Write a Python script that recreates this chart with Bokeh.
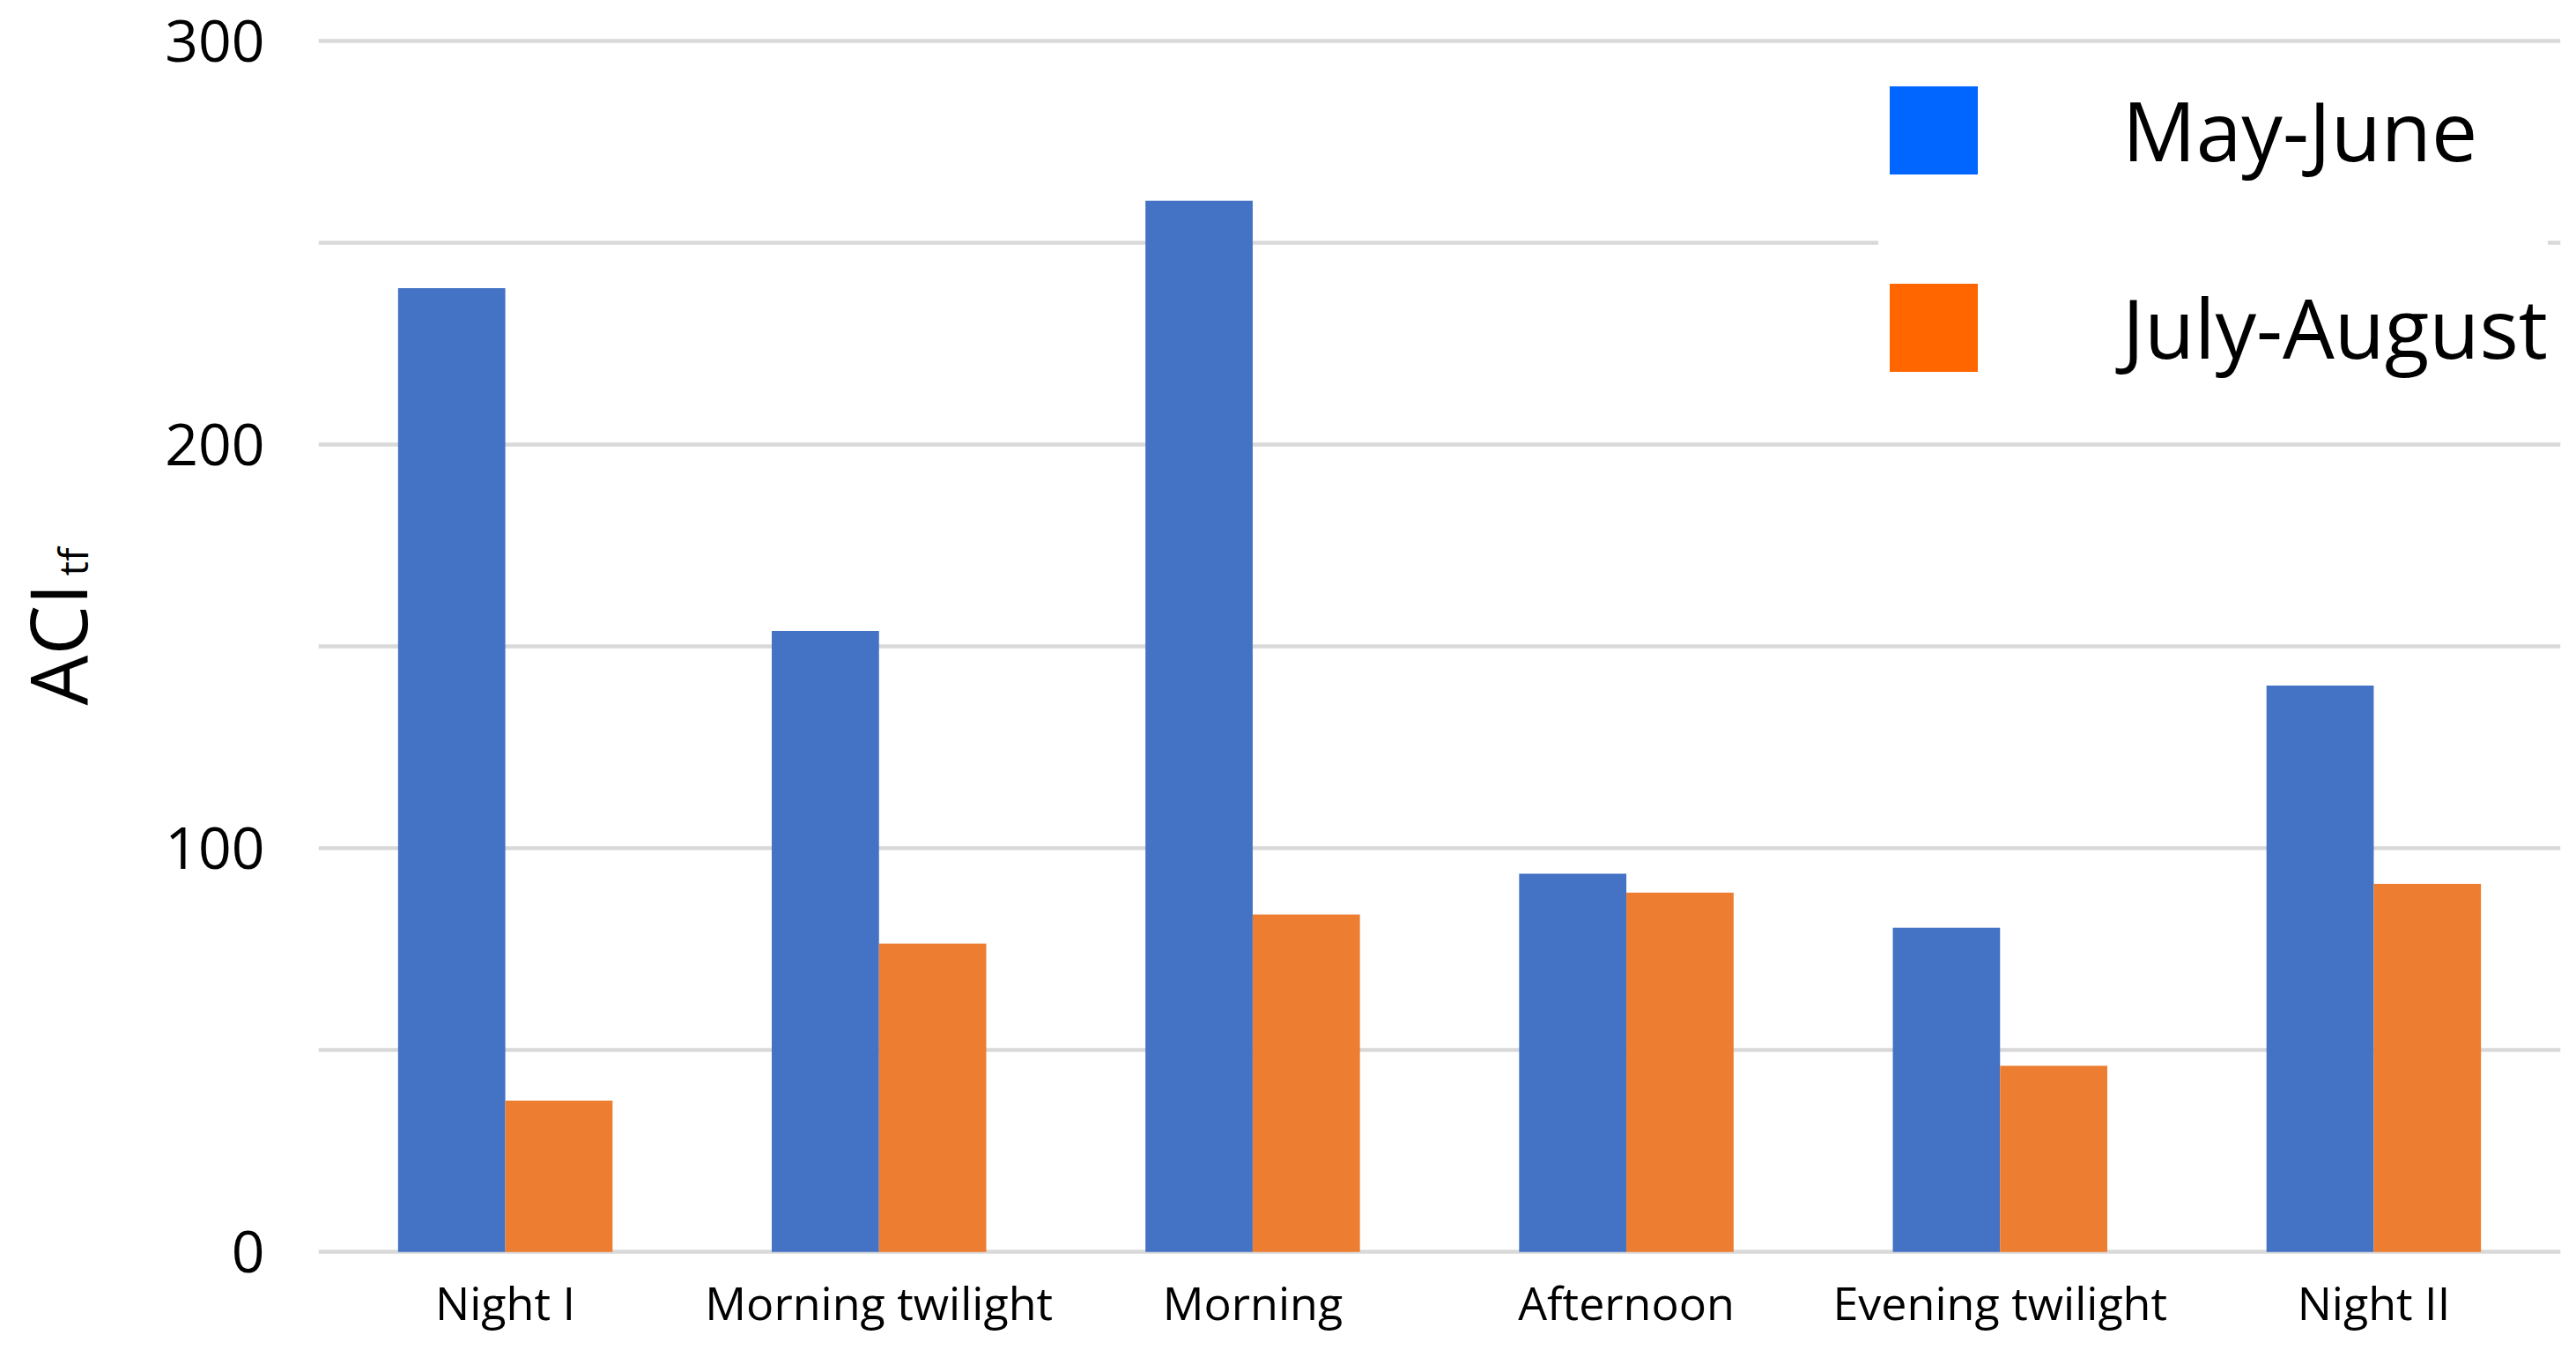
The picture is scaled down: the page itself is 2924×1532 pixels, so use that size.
import math
from bokeh.plotting import figure
from bokeh.models import (ColumnDataSource, FactorRange, Range1d, FixedTicker,
                          Legend, LegendItem, Label)
from bokeh.transform import dodge
from bokeh.embed import file_html
from bokeh.resources import INLINE

# ---- data ----
periods = ["Night I", "Morning twilight", "Morning", "Afternoon", "Evening twilight", "Night II"]
may_june = [238.7, 153.8, 260.4, 93.7, 80.3, 140.3]
july_august = [37.5, 76.4, 83.6, 89.0, 46.1, 91.2]
series_names = ["May-June", "July-August"]
y_tick_labels = [0, 100, 200, 300]
y_grid_values = [0, 50, 100, 150, 200, 250, 300]
y_title_main = "ACI"
y_title_sub = "tf"

FONT = "Open Sans"
BAR_BLUE = "#4472C4"
BAR_ORANGE = "#ED7D31"
LEG_BLUE = "#0066FF"
LEG_ORANGE = "#FF6600"

source = ColumnDataSource(data=dict(period=periods, may_june=may_june, july_august=july_august))

p = figure(width=2908, height=1516, output_backend="svg", toolbar_location=None, title=None,
           x_range=FactorRange(*periods, range_padding=0), y_range=Range1d(-0.6, 300.6),
           min_border_left=360, min_border_right=2, min_border_top=43, min_border_bottom=93)
p.outline_line_color = None
p.background_fill_color = "white"
p.border_fill_color = "white"

bw = 0.287
p.vbar(x=dodge("period", -bw / 2, range=p.x_range), top="may_june", width=bw, source=source,
       fill_color=BAR_BLUE, line_color=None)
p.vbar(x=dodge("period", bw / 2, range=p.x_range), top="july_august", width=bw, source=source,
       fill_color=BAR_ORANGE, line_color=None)

# legend swatches (brighter colours than the bars); zero height, so nothing shows in the plot
r_leg1 = p.vbar(x="period", top=0, bottom=0, width=bw, source=source, fill_color=LEG_BLUE, line_color=None)
r_leg2 = p.vbar(x="period", top=0, bottom=0, width=bw, source=source, fill_color=LEG_ORANGE, line_color=None)

legend = Legend(items=[LegendItem(label=series_names[0], renderers=[r_leg1]),
                       LegendItem(label=series_names[1], renderers=[r_leg2])],
                location=(1771, 989), orientation="vertical",
                glyph_width=125, glyph_height=125, label_standoff=152,
                label_text_font=FONT, label_text_font_size="93px", label_text_color="black",
                padding=12, spacing=98, margin=0,
                border_line_color=None, background_fill_color="white", background_fill_alpha=1.0)
p.add_layout(legend)

# grid
p.xgrid.grid_line_color = None
p.ygrid.ticker = FixedTicker(ticks=y_grid_values)
p.ygrid.grid_line_color = "#D9D9D9"
p.ygrid.grid_line_width = 4.5

# y axis
p.yaxis.ticker = FixedTicker(ticks=y_tick_labels)
p.yaxis.axis_line_color = None
p.yaxis.major_tick_line_color = None
p.yaxis.minor_tick_line_color = None
p.yaxis.major_tick_in = 0
p.yaxis.major_tick_out = 0
p.yaxis.major_label_standoff = 61
p.yaxis.major_label_text_font = FONT
p.yaxis.major_label_text_font_size = "66px"
p.yaxis.major_label_text_color = "black"

# x axis
p.xaxis.axis_line_color = None
p.xaxis.major_tick_line_color = None
p.xaxis.major_tick_in = 0
p.xaxis.major_tick_out = 0
p.xaxis.major_label_standoff = 18
p.xaxis.major_label_text_font = FONT
p.xaxis.major_label_text_font_size = "52px"
p.xaxis.major_label_text_color = "black"

# rotated y-axis title "ACI" with subscript "tf", kept in the left side panel (canvas coordinates)
p.add_layout(Label(x=63, y=800, x_units="canvas", y_units="canvas", text=y_title_main,
                   angle=math.pi / 2, text_align="left", text_baseline="alphabetic",
                   text_font=FONT, text_font_size="90px", text_color="black"), "left")
p.add_layout(Label(x=81, y=653, x_units="canvas", y_units="canvas", text=y_title_sub,
                   angle=math.pi / 2, text_align="left", text_baseline="alphabetic",
                   text_font=FONT, text_font_size="46px", text_color="black"), "left")

open("out.html", "w").write(file_html(p, INLINE))
